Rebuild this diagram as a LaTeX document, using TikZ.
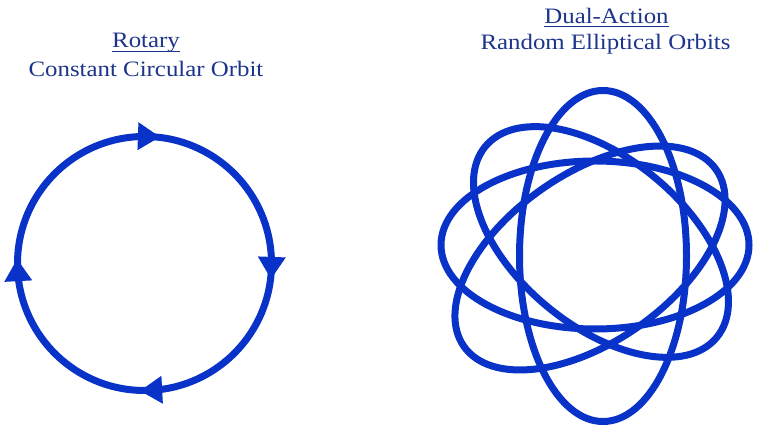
\documentclass[tikz,border=0pt]{standalone}
\usepackage{fontspec}
\setmainfont[FakeStretch=1.13]{Liberation Serif}
\definecolor{orbit}{RGB}{8,50,200}
\definecolor{label}{RGB}{28,52,140}
\begin{document}
\begin{tikzpicture}[x=1pt,y=1pt,
  orbitline/.style={draw=orbit, line width=7pt},
  title/.style={text=label, font=\fontsize{22}{26}\selectfont, inner sep=0pt, anchor=base},
  ulline/.style={draw=label, line width=1pt}]
\useasboundingbox (0,0) rectangle (757,428);
% titles
\node[title] (rot) at (146,380) {Rotary};
\node[title] (rotsub) at (146,351) {Constant Circular Orbit};
\node[title] (dual) at (606.5,404) {Dual-Action};
\node[title] (dualsub) at (605.5,378.5) {Random Elliptical Orbits};
\draw[ulline] ([yshift=-4pt]rot.base west) -- ([yshift=-4pt]rot.base east);
\draw[ulline] ([yshift=-3pt]dual.base west) -- ([yshift=-3pt]dual.base east);
% rotary orbit
\coordinate (c) at (144.5,164.5);
\draw[orbitline] (c) circle[radius=127];
\foreach \a in {88,-2,-87,183}{
  \begin{scope}[shift={(c)}, rotate=\a]
    \fill[orbit] (127,-11) -- (113,11) -- (141,11) -- cycle;
  \end{scope}
}
% dual-action orbits
\coordinate (v) at (603,172);
\coordinate (h) at (595,183);
\coordinate (d1) at (601,186);
\coordinate (d2) at (590,170);
\draw[orbitline] (v) ellipse[x radius=83.5, y radius=165.5];
\draw[orbitline] (h) ellipse[x radius=154, y radius=84];
\draw[orbitline, rotate around={-39.5:(d1)}] (d1) ellipse[x radius=150, y radius=84];
\draw[orbitline, rotate around={35:(d2)}] (d2) ellipse[x radius=154, y radius=84];
\end{tikzpicture}
\end{document}
